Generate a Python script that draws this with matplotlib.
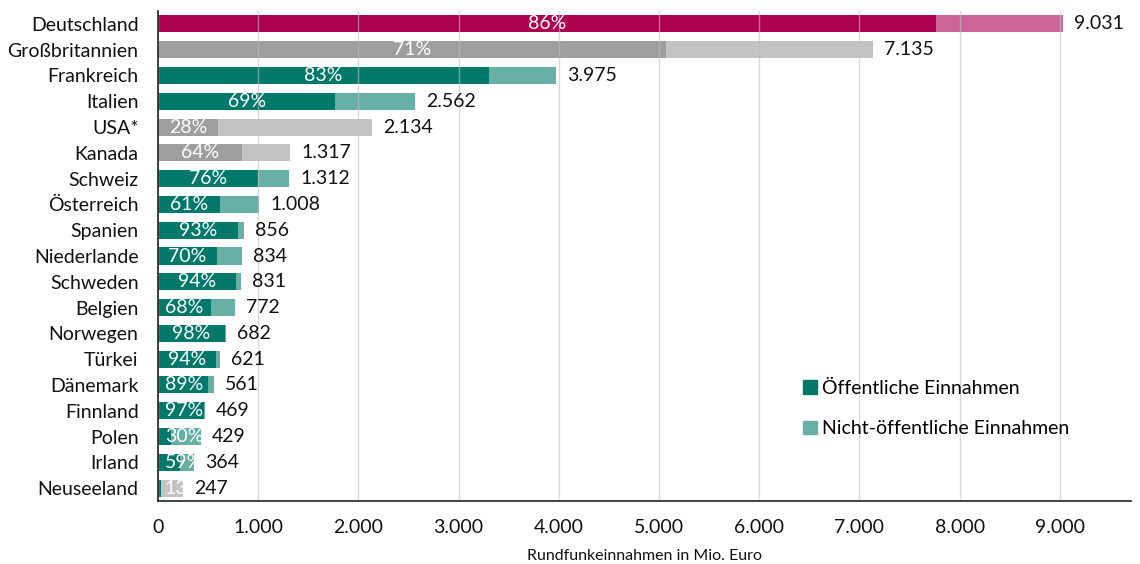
import matplotlib
matplotlib.use("Agg")
import matplotlib.pyplot as plt
from matplotlib.patches import Rectangle, Patch

countries = ["Deutschland", "Großbritannien", "Frankreich", "Italien", "USA*", "Kanada",
             "Schweiz", "Österreich", "Spanien", "Niederlande", "Schweden", "Belgien",
             "Norwegen", "Türkei", "Dänemark", "Finnland", "Polen", "Irland", "Neuseeland"]
totals = [9031, 7135, 3975, 2562, 2134, 1317, 1312, 1008, 856, 834, 831, 772,
          682, 621, 561, 469, 429, 364, 247]
public_pct = [86, 71, 83, 69, 28, 64, 76, 61, 93, 70, 94, 68, 98, 94, 89, 97, 30, 59, 13]
# colour group for each bar: (public colour, non-public colour)
groups = ["de", "grey", "teal", "teal", "grey", "grey", "teal", "teal", "teal", "teal",
          "teal", "teal", "teal", "teal", "teal", "teal", "teal", "teal", "nz"]
tick_values = [0, 1000, 2000, 3000, 4000, 5000, 6000, 7000, 8000, 9000]
tick_labels = ["0", "1.000", "2.000", "3.000", "4.000", "5.000", "6.000", "7.000", "8.000", "9.000"]

palette = {
    "de": ("#AE0050", "#CE6598"),
    "grey": ("#9E9E9E", "#C3C3C3"),
    "teal": ("#00796B", "#67B0A5"),
    "nz": ("#00796B", "#C3C3C3"),
}

plt.rcParams['font.family'] = ['Lato', 'DejaVu Sans']
FS = 14

fig = plt.figure(figsize=(11.4, 5.64), dpi=100)
ax = fig.add_axes([158/1140, 63/564, (1131-158)/1140, (553-63)/564])

n = len(countries)
ys = list(range(n))
h = 0.66
for y, c, tot, pct, g in zip(ys, countries, totals, public_pct, groups):
    pub = tot * pct / 100.0
    dark, light = palette[g]
    ax.barh(y, pub, height=h, color=dark, zorder=2)
    ax.barh(y, tot - pub, left=pub, height=h, color=light, zorder=2)
    clip = Rectangle((0, y - h/2), tot, h, transform=ax.transData)
    xc = max(pub / 2, 260)
    t = ax.text(xc, y, f"{pct}%", ha="center", va="center", color="white",
                fontsize=FS, zorder=4, clip_on=True)
    t.set_clip_path(clip)
    ax.text(tot + 110, y, f"{tot:,}".replace(",", "."), ha="left", va="center",
            color="#111111", fontsize=FS, zorder=4)

ax.set_ylim(n - 0.5, -0.5)
ax.set_xlim(0, 9710)
ax.set_yticks(ys)
ax.set_yticklabels(countries, fontsize=FS, color="#111111")
ax.set_xticks(tick_values)
ax.set_xticklabels(tick_labels, fontsize=FS, color="#111111")
ax.tick_params(axis="both", length=0)
ax.tick_params(axis="x", pad=13)
ax.tick_params(axis="y", pad=14)
ax.xaxis.grid(True, color="#BFBFBF", linewidth=1, alpha=0.6, zorder=3)
ax.set_axisbelow(False)
for s in ["top", "right"]:
    ax.spines[s].set_visible(False)
for s in ["left", "bottom"]:
    ax.spines[s].set_color("#222222")
    ax.spines[s].set_linewidth(1.2)
    ax.spines[s].set_zorder(5)
ax.set_xlabel("Rundfunkeinnahmen in Mio. Euro", fontsize=11.5, color="#111111", labelpad=9)

handles = [Patch(color="#00796B", label="Öffentliche Einnahmen"),
           Patch(color="#67B0A5", label="Nicht-öffentliche Einnahmen")]
leg = ax.legend(handles=handles, loc="upper left", bbox_to_anchor=(0.645, 0.283),
                frameon=False, fontsize=FS, handlelength=0.7, handleheight=0.7,
                handletextpad=0.25, labelspacing=1.2)
fig.savefig("out.png", dpi=100)
